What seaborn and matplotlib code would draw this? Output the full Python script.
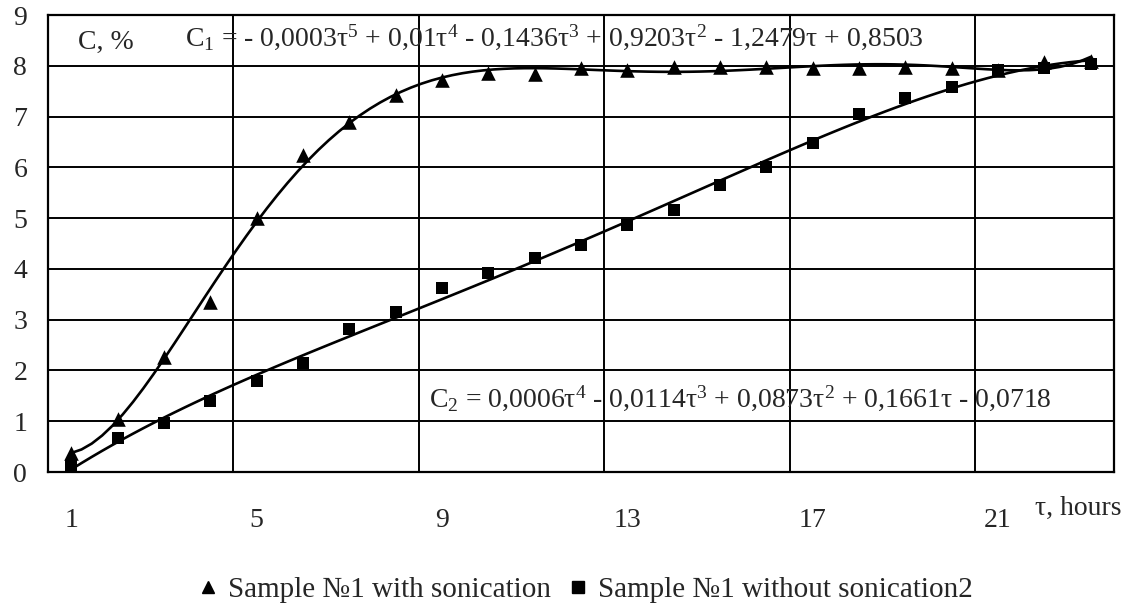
import numpy as np
import pandas as pd
import matplotlib
matplotlib.use("Agg")
import matplotlib.pyplot as plt
from matplotlib.lines import Line2D
import seaborn as sns

# Measured concentration C (%) over time tau (hours)
hours = list(range(1, 24))
with_sonication = [0.38, 1.04, 2.27, 3.35, 5.00, 6.24, 6.90, 7.42, 7.72, 7.85, 7.83, 7.95,
                   7.91, 7.98, 7.98, 7.98, 7.95, 7.95, 7.98, 7.95, 7.92, 8.08, 8.10]
without_sonication = [0.12, 0.67, 0.97, 1.40, 1.79, 2.14, 2.81, 3.15, 3.62, 3.91, 4.21, 4.47,
                      4.86, 5.16, 5.65, 6.01, 6.47, 7.06, 7.36, 7.58, 7.91, 7.95, 8.04]
series_names = ["Sample №1 with sonication", "Sample №1 without sonication2"]
x_tick_values = [1, 5, 9, 13, 17, 21]
x_tick_labels = ["1", "5", "9", "13", "17", "21"]
y_ticks = list(range(0, 10))
eq_c1 = (r"C$_1$ = - 0,0003τ$^5$ + 0,01τ$^4$ - 0,1436τ$^3$ + 0,9203τ$^2$"
         r" - 1,2479τ + 0,8503")
eq_c2 = r"C$_2$ = 0,0006τ$^4$ - 0,0114τ$^3$ + 0,0873τ$^2$ + 0,1661τ - 0,0718"

sns.set_style("white")
plt.rcParams["font.family"] = ["Liberation Serif", "DejaVu Serif"]
plt.rcParams["mathtext.fontset"] = "custom"
plt.rcParams["mathtext.rm"] = "Liberation Serif"
plt.rcParams["mathtext.default"] = "regular"

FS = 20

df = pd.DataFrame({"hours": hours, "s1": with_sonication, "s2": without_sonication})

fig = plt.figure(figsize=(11.33, 6.03), dpi=100)
ax = fig.add_axes([0.0424, 0.2172, 0.9408, 0.7579])

# Polynomial trend lines (least-squares fits)
sns.regplot(data=df, x="hours", y="s1", order=6, ci=None, scatter=False, ax=ax,
            line_kws=dict(color="black", lw=1.9, zorder=3))
sns.regplot(data=df, x="hours", y="s2", order=4, ci=None, scatter=False, ax=ax,
            line_kws=dict(color="black", lw=1.9, zorder=3))

# Data points
sns.scatterplot(data=df, x="hours", y="s1", marker="^", s=110, color="black",
                edgecolor="black", linewidth=0, ax=ax, zorder=4)
sns.scatterplot(data=df, x="hours", y="s2", marker="s", s=85, color="black",
                edgecolor="black", linewidth=0, ax=ax, zorder=5)

ax.set_xlim(0.5, 23.5)
ax.set_ylim(0, 9)
ax.set_xlabel("")
ax.set_ylabel("")

ax.set_yticks(y_ticks)
ax.set_yticklabels([str(v) for v in y_ticks], fontsize=FS)
ax.tick_params(axis="y", direction="out", length=7, width=1.3, color="black", pad=8)

ax.set_xticks(x_tick_values)
ax.set_xticklabels(x_tick_labels, fontsize=FS)
ax.tick_params(axis="x", which="major", length=0, pad=26)
ax.set_xticks([4.5, 8.5, 12.5, 16.5, 20.5], minor=True)
ax.tick_params(axis="x", which="minor", length=0)

ax.grid(False)
ax.yaxis.grid(True, color="black", lw=1.4)
ax.xaxis.grid(True, which="minor", color="black", lw=1.4)
ax.set_axisbelow(True)
for sp in ax.spines.values():
    sp.set_visible(True)
    sp.set_color("black")
    sp.set_linewidth(1.6)

ax.text(1.15, 8.46, "C, %", fontsize=FS, ha="left", va="center")
ax.text(3.46, 8.56, eq_c1, fontsize=FS, ha="left", va="center")
ax.text(8.72, 1.46, eq_c2, fontsize=FS, ha="left", va="center")
fig.text(1035 / 1133, 1 - 508 / 603, "τ, hours", fontsize=FS, ha="left", va="center")

handles = [Line2D([], [], marker="^", linestyle="none", color="black", markersize=9),
           Line2D([], [], marker="s", linestyle="none", color="black", markersize=8)]
fig.legend(handles, series_names, loc="center", bbox_to_anchor=(0.516, 0.022), ncol=2,
           frameon=False, fontsize=21, handletextpad=0.3, columnspacing=0.5,
           handlelength=0.8)

fig.savefig("out.png", dpi=100, facecolor="white")
